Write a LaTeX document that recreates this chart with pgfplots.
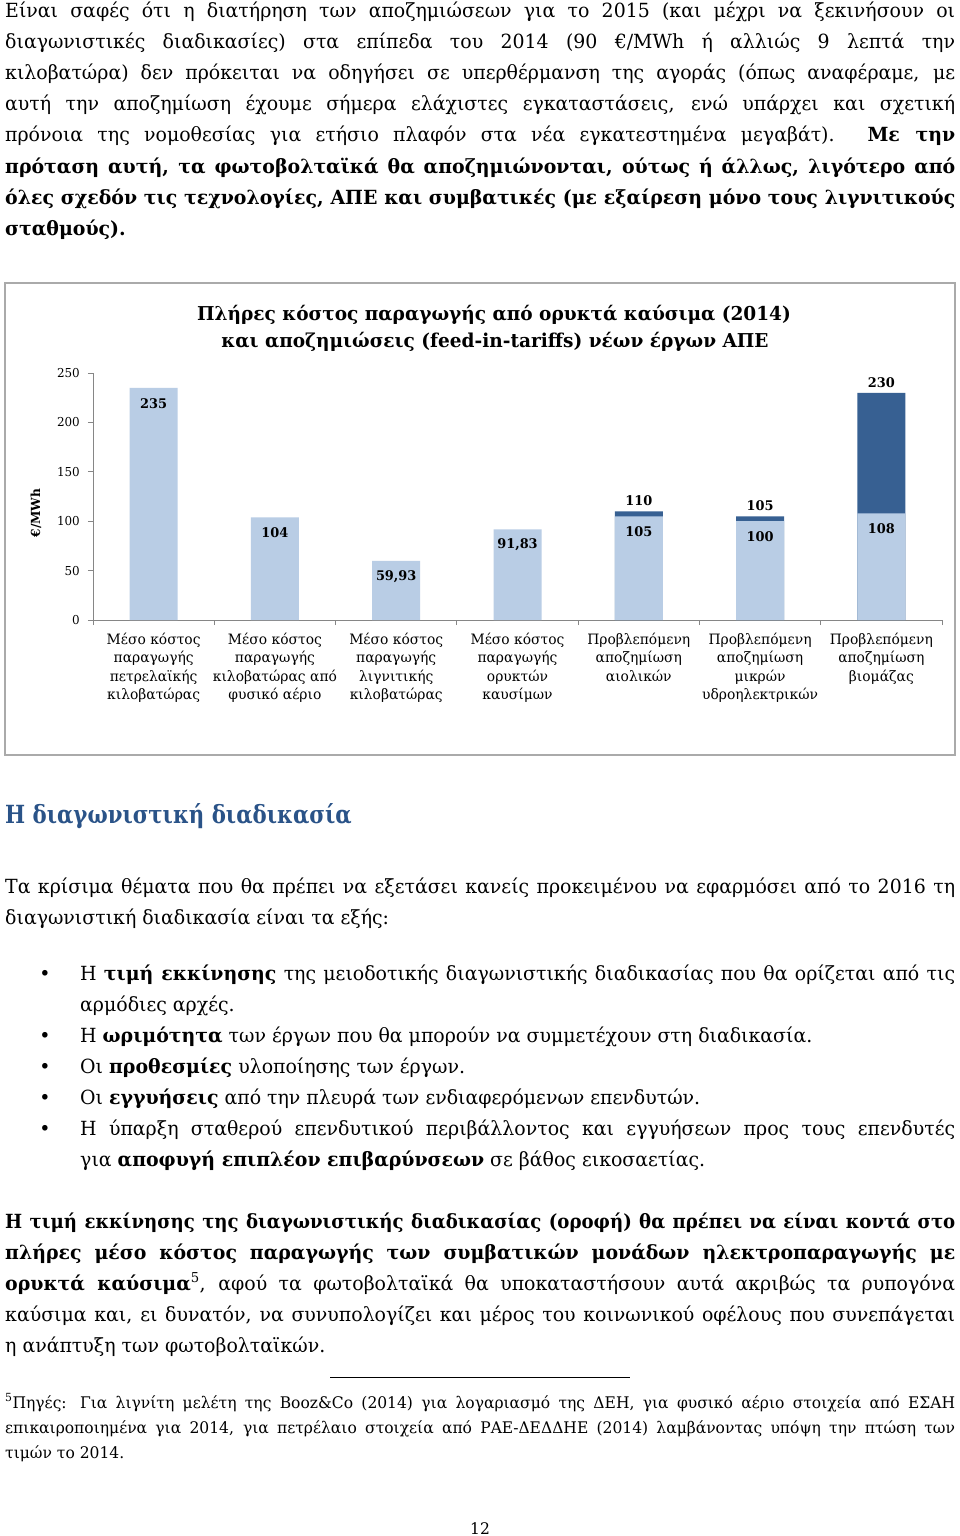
\documentclass[border=0pt]{standalone}
\usepackage{pgfplots}
\pgfplotsset{compat=1.18}
\usepackage{pgfplotstable}
\usepackage{fontspec}
\setmainfont{DejaVu Serif}[FakeStretch=0.97]
\newfontfamily\headfont{DejaVu Serif}[FakeStretch=0.85]
\newfontfamily\narrowfont{DejaVu Serif}[FakeStretch=0.93]
\definecolor{lightbar}{RGB}{185,205,229}
\definecolor{darkbar}{RGB}{55,96,146}
\definecolor{headblue}{RGB}{42,83,136}
\definecolor{axgray}{RGB}{134,134,134}
\definecolor{framegray}{RGB}{170,170,170}

% light part of each bar (cost or compensation without extra)
\pgfplotstableread[col sep=semicolon]{
x;base;lb
1;235;235
2;104;104
3;59.93;59,93
4;91.83;91,83
5;105;105
6;100;100
7;108;108
}\basedata
% full height of the compensation bars (dark top part)
\pgfplotstableread[col sep=semicolon]{
x;total;lt
5;110;110
6;105;105
7;230;230
}\totaldata

\newcommand{\bodyfont}{\fontsize{19.5pt}{31pt}\selectfont}
\newcommand{\footfont}{\fontsize{16pt}{25pt}\selectfont}
\newcommand{\JL}[3]{\node[anchor=base west,inner sep=0pt] at (#1pt,-#2pt) {\bodyfont\makebox[\dimexpr955pt-#1pt\relax][s]{#3}};}
\newcommand{\LL}[3]{\node[anchor=base west,inner sep=0pt] at (#1pt,-#2pt) {\bodyfont #3};}
\newcommand{\FJ}[2]{\node[anchor=base west,inner sep=0pt] at (5pt,-#1pt) {\footfont\makebox[950pt][s]{#2}};}
\newcommand{\FL}[2]{\node[anchor=base west,inner sep=0pt] at (5pt,-#1pt) {\footfont #2};}
\newcommand{\BUL}[1]{\node[anchor=base,inner sep=0pt] at (45pt,-#1pt) {\bodyfont\textbullet};}

\begin{document}
\begin{tikzpicture}
\path[use as bounding box, fill=white] (0pt,0pt) rectangle (960pt,-1536pt);

% ---- top paragraph ----
\JL{5}{18}{Είναι σαφές ότι η διατήρηση των αποζημιώσεων για το 2015 (και μέχρι να ξεκινήσουν οι}
\JL{5}{49}{διαγωνιστικές διαδικασίες) στα επίπεδα του 2014 (90 €/MWh ή αλλιώς 9 λεπτά την}
\JL{5}{80}{κιλοβατώρα) δεν πρόκειται να οδηγήσει σε υπερθέρμανση της αγοράς (όπως αναφέραμε, με}
\JL{5}{111}{αυτή την αποζημίωση έχουμε σήμερα ελάχιστες εγκαταστάσεις, ενώ υπάρχει και σχετική}
\JL{5}{142}{πρόνοια της νομοθεσίας για ετήσιο πλαφόν στα νέα εγκατεστημένα μεγαβάτ). \textbf{Με την}}
\JL{5}{173}{\bfseries πρόταση αυτή, τα φωτοβολταϊκά θα αποζημιώνονται, ούτως ή άλλως, λιγότερο από}
\JL{5}{204}{\bfseries όλες σχεδόν τις τεχνολογίες, ΑΠΕ και συμβατικές (με εξαίρεση μόνο τους λιγνιτικούς}
\LL{5}{235}{\bfseries σταθμούς).}

% ---- chart frame ----
\draw[framegray, line width=1.3pt] (5pt,-283pt) rectangle (955pt,-755pt);

% ---- chart title and y label ----
\node[anchor=base, inner sep=0pt] at (494pt,-320.7pt) {\fontsize{19.1pt}{26pt}\selectfont\bfseries Πλήρες κόστος παραγωγής από ορυκτά καύσιμα (2014)};
\node[anchor=base, inner sep=0pt] at (495pt,-347pt) {\fontsize{19.1pt}{26pt}\selectfont\bfseries και αποζημιώσεις (feed-in-tariffs) νέων έργων ΑΠΕ};
\node[rotate=90, anchor=center, inner sep=0pt] at (36pt,-513pt) {\fontsize{12.5pt}{14pt}\selectfont\bfseries €/MWh};

\begin{axis}[
  at={(93pt,-620pt)}, anchor=south west,
  scale only axis, width=849pt, height=247pt,
  xmin=0.5, xmax=7.5, ymin=0, ymax=250,
  ybar, bar width=48pt, bar shift=0pt,
  axis x line*=bottom, axis y line*=left,
  axis line style={-, axgray, line width=0.8pt},
  tick style={axgray, line width=0.8pt},
  tick align=outside, major tick length=5pt, minor tick length=5pt,
  ytick={0,50,...,250},
  xtick={1,...,7},
  major x tick style={draw=none},
  minor xtick={0.5,1.5,...,7.5},
  xticklabels={
    {Μέσο κόστος\\παραγωγής\\πετρελαϊκής\\κιλοβατώρας},
    {Μέσο κόστος\\παραγωγής\\κιλοβατώρας από\\φυσικό αέριο},
    {Μέσο κόστος\\παραγωγής\\λιγνιτικής\\κιλοβατώρας},
    {Μέσο κόστος\\παραγωγής\\ορυκτών\\καυσίμων},
    {Προβλεπόμενη\\αποζημίωση\\αιολικών},
    {Προβλεπόμενη\\αποζημίωση\\μικρών\\υδροηλεκτρικών},
    {Προβλεπόμενη\\αποζημίωση\\βιομάζας}},
  xticklabel style={align=center, font=\fontsize{14.3pt}{18.3pt}\selectfont, anchor=north, inner sep=0pt, yshift=-8pt},
  yticklabel style={font=\fontsize{12.3pt}{14pt}\selectfont, anchor=east, inner sep=0pt, xshift=-8pt},
  /pgf/number format/assume math mode=true,
  clip=false,
]
\addplot[fill=darkbar, draw=none, point meta=explicit symbolic,
  nodes near coords,
  every node near coord/.append style={anchor=center, yshift=10.5pt, font=\fontsize{13.3pt}{16pt}\selectfont\bfseries}]
  table[x=x, y=total, meta=lt] {\totaldata};
\addplot[fill=lightbar, draw=none, point meta=explicit symbolic,
  nodes near coords,
  every node near coord/.append style={anchor=center, yshift=-15.5pt, font=\fontsize{13.3pt}{16pt}\selectfont\bfseries}]
  table[x=x, y=base, meta=lb] {\basedata};
\end{axis}

% ---- heading ----
\node[anchor=base west, inner sep=0pt, text=headblue] at (5pt,-823pt) {\headfont\fontsize{25pt}{30pt}\selectfont\bfseries Η διαγωνιστική διαδικασία};

% ---- second paragraph ----
\JL{5}{893}{Τα κρίσιμα θέματα που θα πρέπει να εξετάσει κανείς προκειμένου να εφαρμόσει από το 2016 τη}
\LL{5}{924}{διαγωνιστική διαδικασία είναι τα εξής:}

% ---- bullets ----
\BUL{980}\JL{80}{980}{Η \textbf{τιμή εκκίνησης} της μειοδοτικής διαγωνιστικής διαδικασίας που θα ορίζεται από τις}
\LL{80}{1011}{αρμόδιες αρχές.}
\BUL{1042}\LL{80}{1042}{Η \textbf{ωριμότητα} των έργων που θα μπορούν να συμμετέχουν στη διαδικασία.}
\BUL{1073}\LL{80}{1073}{Οι \textbf{προθεσμίες} υλοποίησης των έργων.}
\BUL{1104}\LL{80}{1104}{Οι \textbf{εγγυήσεις} από την πλευρά των ενδιαφερόμενων επενδυτών.}
\BUL{1135}\JL{80}{1135}{Η ύπαρξη σταθερού επενδυτικού περιβάλλοντος και εγγυήσεων προς τους επενδυτές}
\LL{80}{1166}{για \textbf{αποφυγή επιπλέον επιβαρύνσεων} σε βάθος εικοσαετίας.}

% ---- third paragraph ----
\JL{5}{1228}{\narrowfont\bfseries Η τιμή εκκίνησης της διαγωνιστικής διαδικασίας (οροφή) θα πρέπει να είναι κοντά στο}
\JL{5}{1259}{\bfseries πλήρες μέσο κόστος παραγωγής των συμβατικών μονάδων ηλεκτροπαραγωγής με}
\JL{5}{1290}{\textbf{ορυκτά καύσιμα}\textsuperscript{5}, αφού τα φωτοβολταϊκά θα υποκαταστήσουν αυτά ακριβώς τα ρυπογόνα}
\JL{5}{1321}{καύσιμα και, ει δυνατόν, να συνυπολογίζει και μέρος του κοινωνικού οφέλους που συνεπάγεται}
\LL{5}{1352}{η ανάπτυξη των φωτοβολταϊκών.}

% ---- footnote ----
\draw[black, line width=1pt] (330pt,-1377pt) -- (630pt,-1377pt);
\FJ{1408}{\textsuperscript{5}Πηγές: Για λιγνίτη μελέτη της Booz\&Co (2014) για λογαριασμό της ΔΕΗ, για φυσικό αέριο στοιχεία από ΕΣΑΗ}
\FJ{1433}{επικαιροποιημένα για 2014, για πετρέλαιο στοιχεία από ΡΑΕ-ΔΕΔΔΗΕ (2014) λαμβάνοντας υπόψη την πτώση των}
\FL{1458}{τιμών το 2014.}

% ---- page number ----
\node[anchor=base, inner sep=0pt] at (480pt,-1534pt) {\fontsize{16pt}{20pt}\selectfont 12};
\end{tikzpicture}
\end{document}
